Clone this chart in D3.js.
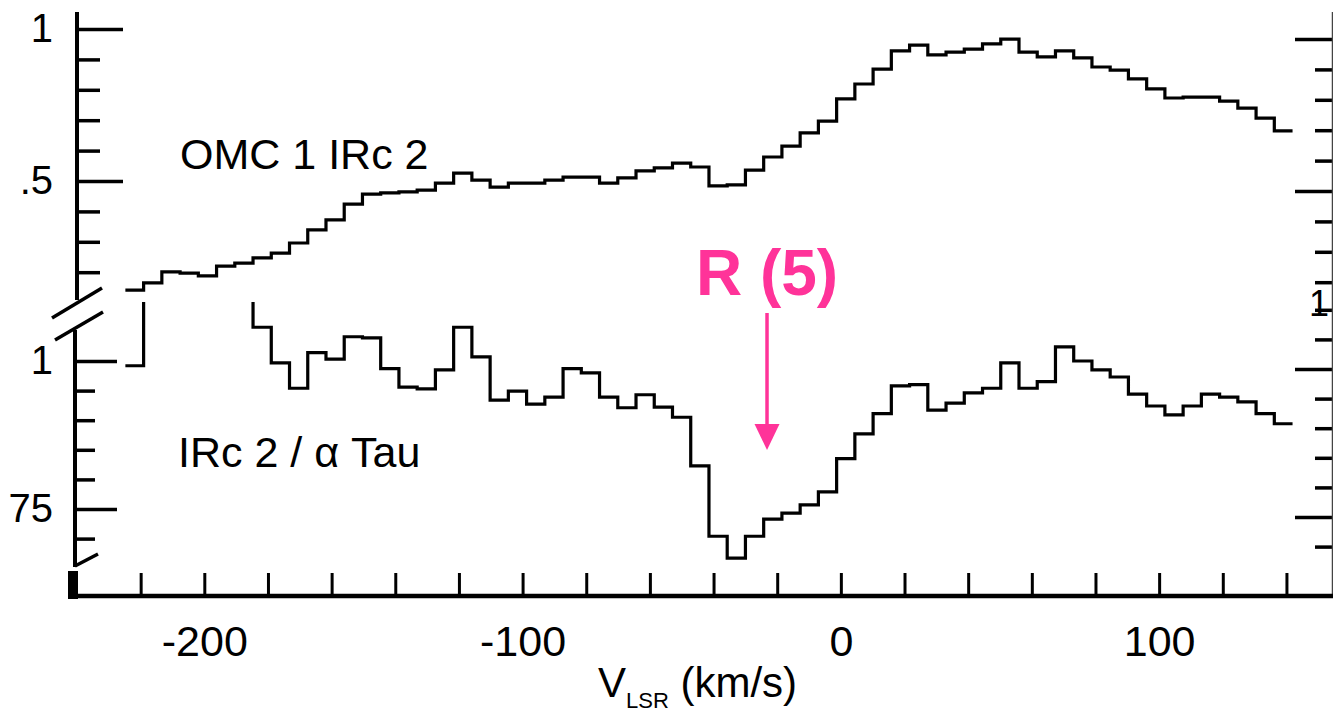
<!DOCTYPE html>
<html>
<head>
<meta charset="utf-8">
<script src="https://cdn.jsdelivr.net/npm/d3@7"></script>
<style>
  html, body { margin: 0; padding: 0; background: #fff; }
  svg { display: block; }
  text { font-family: "Liberation Sans", Arial, Helvetica, sans-serif; fill: #000; }
</style>
</head>
<body>
<svg id="chart" width="1333" height="717"></svg>
<script>
// Spectrometer channel grid (km/s)
const channelStart = -224.8;
const channelWidth = 5.73;

// OMC 1 IRc 2 spectrum, one value per channel
const omcSpectrum = [
  0.141, 0.165, 0.201, 0.197, 0.188, 0.220, 0.230, 0.247, 0.263, 0.296,
  0.339, 0.372, 0.424, 0.457, 0.461, 0.464, 0.470, 0.493, 0.526, 0.503,
  0.480, 0.493, 0.493, 0.503, 0.513, 0.513, 0.493, 0.510, 0.533, 0.543,
  0.559, 0.546, 0.484, 0.487, 0.536, 0.579, 0.615, 0.658, 0.697, 0.770,
  0.819, 0.868, 0.928, 0.947, 0.915, 0.924, 0.934, 0.951, 0.967, 0.924,
  0.908, 0.928, 0.905, 0.875, 0.865, 0.836, 0.803, 0.773, 0.776, 0.776,
  0.763, 0.740, 0.707, 0.665
];

// IRc 2 / alpha Tau ratio, one value per channel (null = above the panel)
const ratioSpectrum = [
  0.992, null, null, null, null, null, null, 1.057, 0.997, 0.954,
  1.014, 1.003, 1.041, 1.039, 0.987, 0.956, 0.953, 0.985, 1.057, 1.007,
  0.934, 0.949, 0.927, 0.939, 0.987, 0.980, 0.939, 0.921, 0.943, 0.922,
  0.905, 0.823, 0.704, 0.667, 0.704, 0.733, 0.743, 0.757, 0.779, 0.835,
  0.877, 0.911, 0.958, 0.960, 0.917, 0.929, 0.946, 0.954, 0.997, 0.954,
  0.965, 1.024, 1.000, 0.985, 0.973, 0.944, 0.924, 0.909, 0.924, 0.944,
  0.939, 0.931, 0.911, 0.894
];

// Axis ticks and labels
const velocityTicks = [-220, -200, -180, -160, -140, -120, -100, -80, -60, -40, -20, 0, 20, 40, 60, 80, 100, 120, 140];
const velocityLabels = [-200, -100, 0, 100];
const upperTicks = [0.2, 0.3, 0.4, 0.5, 0.6, 0.7, 0.8, 0.9, 1.0];
const upperLabels = [[1.0, "1"], [0.5, ".5"]];
const lowerTicks = [0.70, 0.75, 0.80, 0.85, 0.90, 0.95, 1.00];
const lowerLabels = [[1.0, "1"], [0.75, "75"]];
const rightUpperTicks = [0.2, 0.3, 0.4, 0.5, 0.6, 0.7, 0.8, 0.9, 1.0];
const rightUpperMajor = [0.5, 1.0];
const rightLowerTicks = [0.70, 0.75, 0.80, 0.85, 0.90, 0.95, 1.00, 1.05, 1.10];
const rightLowerMajor = [0.75, 1.00];

// Line marker
const lineMarker = { velocity: -23.2, label: "R (5)" };
const spectrumNames = ["OMC 1 IRc 2", "IRc 2 / \u03b1 Tau"];

const pink = "#ff3399";
const svg = d3.select("#chart");
svg.append("rect").attr("width", 1333).attr("height", 717).attr("fill", "#fff");

// Scales
const x = d3.scaleLinear().domain([-240, 154]).range([77, 1331]);
const yUpper = d3.scaleLinear().domain([0, 1]).range([333, 29]);
const yLower = d3.scaleLinear().domain([0.7, 1]).range([538.6, 361]);
const yRightUpper = d3.scaleLinear().domain([0, 1]).range([343, 39]);
const yRightLower = d3.scaleLinear().domain([0.7, 1]).range([546.6, 369]);
const lowerCeiling = yLower.invert(302);

const near = (a, list) => list.some(b => Math.abs(a - b) < 1e-6);

// Step-histogram points, breaking where a channel is off scale
function stepPoints(values, ceiling) {
  const pts = [];
  values.forEach((v, i) => {
    const v0 = channelStart + i * channelWidth;
    const v1 = v0 + channelWidth;
    if (v == null) {
      if (i > 0 && values[i - 1] != null) pts.push([v0, ceiling]);
      pts.push(null);
      return;
    }
    if (i > 0 && values[i - 1] == null) pts.push([v0, ceiling]);
    pts.push([v0, v], [v1, v]);
  });
  return pts;
}

function drawSpectrum(values, yScale, ceiling) {
  const line = d3.line()
    .defined(d => d !== null)
    .x(d => x(d[0]))
    .y(d => yScale(d[1]));
  svg.append("path")
    .attr("d", line(stepPoints(values, ceiling)))
    .attr("fill", "none")
    .attr("stroke", "#000")
    .attr("stroke-width", 3.2)
    .attr("stroke-linejoin", "miter");
}

drawSpectrum(omcSpectrum, yUpper, 1.1);
drawSpectrum(ratioSpectrum, yLower, lowerCeiling);

// Left axes with inward ticks
function leftAxis(scale, ticks, labels, xPos, longLen, shortLen, padding, y0, y1) {
  const labelMap = new Map(labels.map(d => [d[0].toFixed(3), d[1]]));
  const g = svg.append("g").attr("transform", `translate(${xPos},0)`)
    .call(d3.axisLeft(scale).tickValues(ticks)
      .tickSizeInner(-shortLen).tickSizeOuter(0).tickPadding(padding)
      .tickFormat(d => labelMap.get(d.toFixed(3)) || ""));
  g.select(".domain").remove();
  g.selectAll(".tick line")
    .attr("x2", d => labelMap.has(d.toFixed(3)) ? longLen : shortLen)
    .attr("stroke", "#000").attr("stroke-width", 3.5);
  g.selectAll(".tick text").attr("font-size", 40).attr("x", -padding);
  g.append("line").attr("x1", 0).attr("x2", 0).attr("y1", y0).attr("y2", y1)
    .attr("stroke", "#000").attr("stroke-width", 4);
}

leftAxis(yUpper, upperTicks, upperLabels, 77, 46, 23, 24, 12, 300);
leftAxis(yLower, lowerTicks, lowerLabels, 75, 42, 20, 22, 330, 567);

// Axis break marks
const breakMarks = [[52, 318, 102, 288], [55, 340, 103, 312], [75, 566, 98, 554]];
svg.selectAll("line.brk").data(breakMarks).enter().append("line")
  .attr("class", "brk")
  .attr("x1", d => d[0]).attr("y1", d => d[1]).attr("x2", d => d[2]).attr("y2", d => d[3])
  .attr("stroke", "#000").attr("stroke-width", 3.5);

// Right axis
function rightTicks(scale, ticks, major) {
  const g = svg.append("g").attr("transform", "translate(1333,0)")
    .call(d3.axisLeft(scale).tickValues(ticks).tickSizeOuter(0).tickFormat(""));
  g.select(".domain").remove();
  g.selectAll(".tick line")
    .attr("x2", d => near(d, major) ? -38 : -18)
    .attr("stroke", "#000").attr("stroke-width", 3.5);
}
rightTicks(yRightUpper, rightUpperTicks, rightUpperMajor);
rightTicks(yRightLower, rightLowerTicks, rightLowerMajor);
svg.append("line").attr("x1", 1332.5).attr("x2", 1332.5).attr("y1", 12).attr("y2", 597)
  .attr("stroke", "#444").attr("stroke-width", 1.5);
svg.append("text").attr("x", 1309).attr("y", 316).attr("font-size", 36).text("1");

// Velocity axis
const xg = svg.append("g").attr("transform", "translate(0,596)")
  .call(d3.axisBottom(x).tickValues(velocityTicks)
    .tickSizeInner(-23).tickSizeOuter(0).tickPadding(29)
    .tickFormat(d => velocityLabels.includes(d) ? String(d) : ""));
xg.select(".domain").remove();
xg.selectAll(".tick line").attr("stroke", "#000").attr("stroke-width", 3);
xg.selectAll(".tick text").attr("font-size", 43).attr("y", 29);
svg.append("line").attr("x1", 68).attr("x2", 1333).attr("y1", 596).attr("y2", 596)
  .attr("stroke", "#000").attr("stroke-width", 4.5);
svg.append("rect").attr("x", 68).attr("y", 571).attr("width", 10).attr("height", 28).attr("fill", "#000");

// Axis title
const title = svg.append("text").attr("x", 598).attr("y", 697).attr("font-size", 42);
title.append("tspan").text("V");
title.append("tspan").attr("font-size", 22).attr("dy", 11).text("LSR");
title.append("tspan").attr("dy", -11).text(" (km/s)");

// Spectrum names
svg.append("text").attr("x", 180).attr("y", 169).attr("font-size", 43).text(spectrumNames[0]);
svg.append("text").attr("x", 178).attr("y", 467).attr("font-size", 43).text(spectrumNames[1]);

// R(5) marker
const mx = x(lineMarker.velocity);
svg.append("text").attr("x", mx).attr("y", 295).attr("text-anchor", "middle")
  .attr("font-size", 64).attr("font-weight", "bold").attr("fill", pink)
  .style("fill", pink).text(lineMarker.label);
svg.append("line").attr("x1", mx).attr("x2", mx).attr("y1", 313).attr("y2", 428)
  .attr("stroke", pink).attr("stroke-width", 3.5);
svg.append("path")
  .attr("d", `M${mx - 12.5},424 L${mx + 12.5},424 L${mx},450 Z`)
  .attr("fill", pink);
</script>
</body>
</html>
